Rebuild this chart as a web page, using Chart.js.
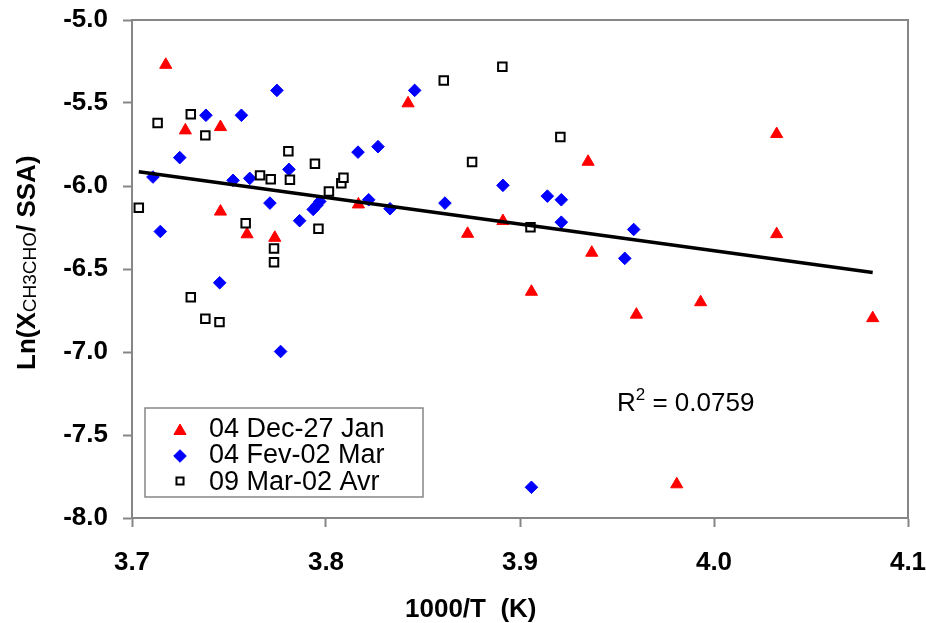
<!DOCTYPE html>
<html>
<head>
<meta charset="utf-8">
<script src="https://cdn.jsdelivr.net/npm/chart.js@4.4.0/dist/chart.umd.min.js"></script>
<style>
body{margin:0;background:#fff}
#wrap{width:926px;height:623px}
</style>
</head>
<body>
<div id="wrap"><canvas id="chart" width="926" height="623"></canvas></div>
<script>
// series labels
const seriesNames=["04 Dec-27 Jan","04 Fev-02 Mar","09 Mar-02 Avr"];

// 04 Dec-27 Jan
const decX=[3.7174,3.7275,3.7456,3.7456,3.7593,3.7736,3.8167,3.8423,3.8730,3.8912,3.9059,3.9351,3.9370,3.9600,3.9808,3.9931,4.0323,4.0323,4.0818];
const decY=[-5.270,-5.665,-5.645,-6.154,-6.291,-6.312,-6.111,-5.502,-6.288,-6.211,-6.637,-5.854,-6.402,-6.775,-7.797,-6.700,-5.687,-6.290,-6.796];

// 04 Fev-02 Mar
const febX=[3.7108,3.7146,3.7246,3.7381,3.7521,3.7564,3.7452,3.7607,3.7711,3.7747,3.7766,3.7809,3.7864,3.7934,3.7952,3.7968,3.8165,3.8220,3.8268,3.8330,3.8457,3.8613,3.8912,3.9141,3.9213,3.9213,3.9540,3.9586,3.9059];
const febY=[-5.946,-6.274,-5.829,-5.574,-5.966,-5.574,-6.583,-5.954,-6.103,-5.424,-6.997,-5.900,-6.209,-6.141,-6.117,-6.093,-5.796,-6.083,-5.763,-6.137,-5.424,-6.103,-5.996,-6.061,-6.083,-6.218,-6.436,-6.262,-7.815];

// 09 Mar-02 Avr
const marX=[3.7035,3.7132,3.7303,3.7378,3.7303,3.7378,3.7451,3.7586,3.7660,3.7715,3.7732,3.7732,3.7806,3.7814,3.7943,3.7961,3.8015,3.8079,3.8090,3.8607,3.8753,3.8909,3.9054,3.9208];
const marY=[-6.131,-5.621,-5.568,-5.695,-6.670,-6.800,-6.820,-6.225,-5.936,-5.960,-6.376,-6.459,-5.791,-5.962,-5.866,-6.257,-6.033,-5.983,-5.950,-5.365,-5.855,-5.281,-6.248,-5.705];

const xTicks=[3.7,3.8,3.9,4.0,4.1];
const yTicks=[-8.0,-7.5,-7.0,-6.5,-6.0,-5.5,-5.0];
const r2Text="0.0759";

const FONT='"Liberation Sans", Arial, sans-serif';
const AXIS='#868686';

function pts(xs,ys){ return xs.map((x,i)=>({x:x,y:ys[i]})); }

// least squares line over all three series
const allX=decX.concat(febX,marX), allY=decY.concat(febY,marY);
const n=allX.length;
const mx=allX.reduce((a,b)=>a+b,0)/n, my=allY.reduce((a,b)=>a+b,0)/n;
let sxy=0,sxx=0;
for(let i=0;i<n;i++){ sxy+=(allX[i]-mx)*(allY[i]-my); sxx+=(allX[i]-mx)*(allX[i]-mx); }
const slope=sxy/sxx, icpt=my-slope*mx;
const xLo=Math.min(...allX), xHi=Math.max(...allX);

const styles=[
  {pointStyle:'triangle',radius:7,backgroundColor:'#ff0000',borderColor:'#ff0000',borderWidth:1},
  {pointStyle:'rectRot',radius:6.3,backgroundColor:'#0000ff',borderColor:'#0000ff',borderWidth:1},
  {pointStyle:'rect',radius:6,backgroundColor:'#ffffff',borderColor:'#000000',borderWidth:2}
];

function scatterSet(i,data,order){
  const s=styles[i];
  return {label:seriesNames[i],data:data,order:order,showLine:false,
    pointStyle:s.pointStyle,pointRadius:s.radius,pointHoverRadius:s.radius,
    pointBackgroundColor:s.backgroundColor,pointBorderColor:s.borderColor,pointBorderWidth:s.borderWidth};
}

const extras={
  id:'extras',
  beforeDatasetsDraw(chart){
    // top and right edges of the plot frame
    const c=chart.ctx,a=chart.chartArea;
    c.save();
    c.strokeStyle=AXIS; c.lineWidth=2;
    c.beginPath();
    c.moveTo(a.left,a.top); c.lineTo(a.right,a.top); c.lineTo(a.right,a.bottom);
    c.stroke();
    c.restore();
  },
  afterDraw(chart){
    const c=chart.ctx;
    c.save();
    c.fillStyle='#000';
    // y title with subscript
    c.save();
    c.translate(35,370);
    c.rotate(-Math.PI/2);
    c.textBaseline='alphabetic'; c.textAlign='left';
    c.font='bold 26px '+FONT;
    let px=0;
    c.fillText('Ln(X',px,0); px+=c.measureText('Ln(X').width;
    c.font='19px '+FONT;
    c.fillText('CH3CHO',px,1); px+=c.measureText('CH3CHO').width;
    c.font='bold 26px '+FONT;
    c.fillText('/ SSA)',px,0);
    c.restore();
    // x title
    c.font='bold 26px '+FONT;
    c.textAlign='left'; c.textBaseline='alphabetic';
    c.fillText('1000/T  (K)',405,617);
    // R squared
    c.font='26px '+FONT;
    c.fillText('R',617,411);
    let rx=617+c.measureText('R').width;
    c.font='17px '+FONT;
    c.fillText('2',rx,400);
    rx+=c.measureText('2').width;
    c.font='26px '+FONT;
    c.fillText(' = '+r2Text,rx,411);
    // legend
    c.fillStyle='#fff'; c.strokeStyle=AXIS; c.lineWidth=1.5;
    c.fillRect(145,408,278,89); c.strokeRect(145,408,278,89);
    const rowY=[431,456,481], textY=[437,463,490];
    for(let i=0;i<3;i++){
      const s=styles[i];
      c.fillStyle=s.backgroundColor; c.strokeStyle=s.borderColor; c.lineWidth=s.borderWidth;
      Chart.helpers.drawPoint(c,{pointStyle:s.pointStyle,radius:i==2?5:s.radius,rotation:0,borderWidth:s.borderWidth},180,rowY[i]);
      c.fillStyle='#000';
      c.font='27px '+FONT;
      c.fillText(seriesNames[i],209,textY[i]);
    }
    c.restore();
  }
};

new Chart(document.getElementById('chart'),{
  type:'scatter',
  data:{datasets:[
    {type:'line',label:'fit',order:0,data:[{x:xLo,y:icpt+slope*xLo},{x:xHi,y:icpt+slope*xHi}],
      borderColor:'#000',borderWidth:3.5,pointRadius:0,fill:false,tension:0},
    scatterSet(2,pts(marX,marY),1),
    scatterSet(1,pts(febX,febY),2),
    scatterSet(0,pts(decX,decY),3)
  ]},
  options:{
    responsive:false,
    animation:false,
    layout:{padding:{top:20,right:18,left:0,bottom:0}},
    plugins:{legend:{display:false},tooltip:{enabled:false},title:{display:false}},
    scales:{
      x:{type:'linear',min:3.7,max:4.1,
        afterBuildTicks:s=>{s.ticks=xTicks.map(v=>({value:v}));},
        afterFit:s=>{s.height=105;s.paddingLeft=0;s.paddingRight=0;},
        ticks:{color:'#000',font:{family:FONT,size:26,weight:'bold'},padding:20,maxRotation:0,
          callback:v=>v.toFixed(1)},
        grid:{drawOnChartArea:false,drawTicks:true,tickLength:9,tickColor:AXIS,tickWidth:2},
        border:{display:true,color:AXIS,width:2}},
      y:{type:'linear',min:-8,max:-5,
        afterBuildTicks:s=>{s.ticks=yTicks.map(v=>({value:v}));},
        afterFit:s=>{s.width=132;s.paddingTop=0;s.paddingBottom=0;},
        ticks:{color:'#000',font:{family:FONT,size:26,weight:'bold'},padding:15,
          callback:v=>v.toFixed(1)},
        grid:{drawOnChartArea:false,drawTicks:true,tickLength:9,tickColor:AXIS,tickWidth:2},
        border:{display:true,color:AXIS,width:2}}
    }
  },
  plugins:[extras]
});
</script>
</body>
</html>
